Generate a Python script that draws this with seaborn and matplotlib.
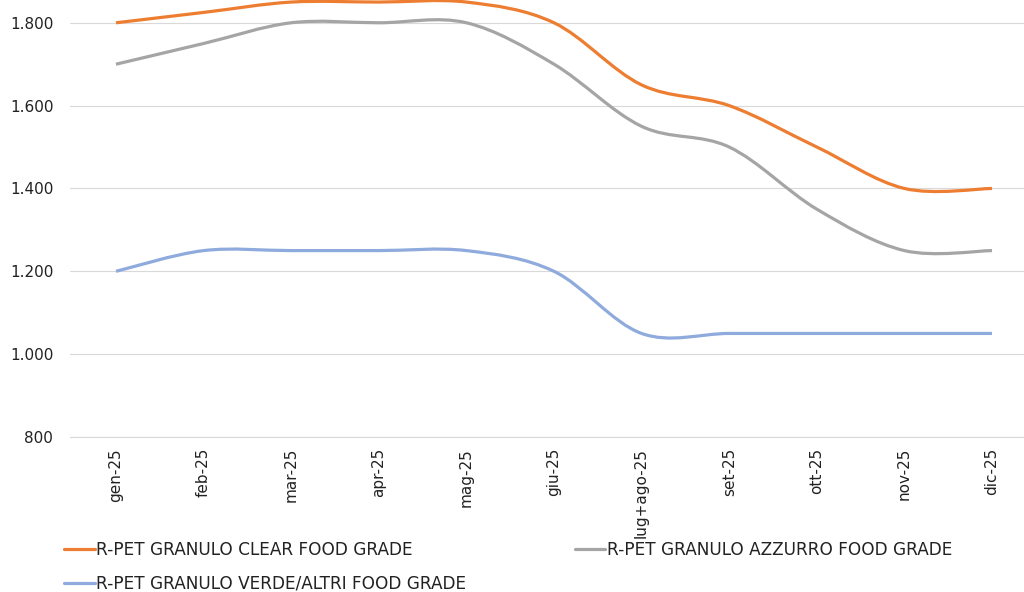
import numpy as np
import pandas as pd
import matplotlib
matplotlib.use("Agg")
import matplotlib.pyplot as plt
import seaborn as sns
from matplotlib.path import Path
from matplotlib.patches import PathPatch
from matplotlib.lines import Line2D
from matplotlib.ticker import FuncFormatter

# data
months = ["gen-25", "feb-25", "mar-25", "apr-25", "mag-25", "giu-25",
          "lug+ago-25", "set-25", "ott-25", "nov-25", "dic-25"]
clear = [1800, 1825, 1850, 1850, 1850, 1800, 1650, 1600, 1500, 1400, 1400]
azzurro = [1700, 1750, 1800, 1800, 1800, 1700, 1550, 1500, 1350, 1250, 1250]
verde = [1200, 1250, 1250, 1250, 1250, 1200, 1050, 1050, 1050, 1050, 1050]

series = [
    ("R-PET GRANULO CLEAR FOOD GRADE", clear, "#ED7D31"),
    ("R-PET GRANULO AZZURRO FOOD GRADE", azzurro, "#A5A5A5"),
    ("R-PET GRANULO VERDE/ALTRI FOOD GRADE", verde, "#8FAADC"),
]

sns.set_theme(style="white")
plt.rcParams["font.family"] = ["DejaVu Sans"]


def smooth_path(xs, ys):
    # Excel-style smoothed line: cubic Bezier segments with Catmull-Rom handles
    pts = np.column_stack([xs, ys]).astype(float)
    n = len(pts)
    verts = [pts[0]]
    codes = [Path.MOVETO]
    for i in range(n - 1):
        p0 = pts[i - 1] if i > 0 else pts[i]
        p1, p2 = pts[i], pts[i + 1]
        p3 = pts[i + 2] if i + 2 < n else pts[i + 1]
        c1 = p1 + (p2 - p0) / 6.0
        c2 = p2 - (p3 - p1) / 6.0
        verts += [c1, c2, p2]
        codes += [Path.CURVE4] * 3
    return Path(verts, codes)


fig = plt.figure(figsize=(10.24, 5.92), dpi=100)
ax = fig.add_axes([70 / 1024, 1 - 437 / 592, 1 - 70 / 1024, 437 / 592])

x = np.arange(len(months))
handles = []
for label, vals, color in series:
    df = pd.DataFrame({"x": x, "y": vals})
    patch = PathPatch(smooth_path(df["x"], df["y"]), facecolor="none",
                      edgecolor=color, lw=2.3, capstyle="butt", clip_on=False, zorder=3)
    ax.add_patch(patch)
    handles.append(Line2D([], [], color=color, lw=2.3, label=label))

ax.set_xlim(-0.525, 10.365)
ax.set_ylim(800, 1855)
ax.set_yticks(range(800, 1801, 200))
ax.yaxis.set_major_formatter(FuncFormatter(lambda v, p: f"{int(v):,}".replace(",", ".")))
ax.set_xticks(x)
ax.set_xticklabels(months, rotation=90, va="top", ha="center")
ax.grid(axis="y", color="#D9D9D9", lw=0.8)
ax.set_axisbelow(True)
sns.despine(ax=ax, left=True, top=True, right=True)
ax.spines["bottom"].set_color("#D9D9D9")
ax.spines["bottom"].set_linewidth(0.8)
ax.tick_params(axis="y", length=0, pad=12, labelsize=11, colors="#222222")
ax.tick_params(axis="x", length=0, pad=8, labelsize=11, colors="#222222")

fig.legend(handles=[handles[0], handles[2], handles[1]], ncol=2,
           loc="upper left", bbox_to_anchor=(64 / 1024, 1 - 541 / 592),
           frameon=False, fontsize=12.2, handlelength=1.8, handletextpad=0.1,
           columnspacing=6.4, labelspacing=0.92, borderpad=0, borderaxespad=0,
           labelcolor="#222222")

fig.savefig("out.png", dpi=100)
